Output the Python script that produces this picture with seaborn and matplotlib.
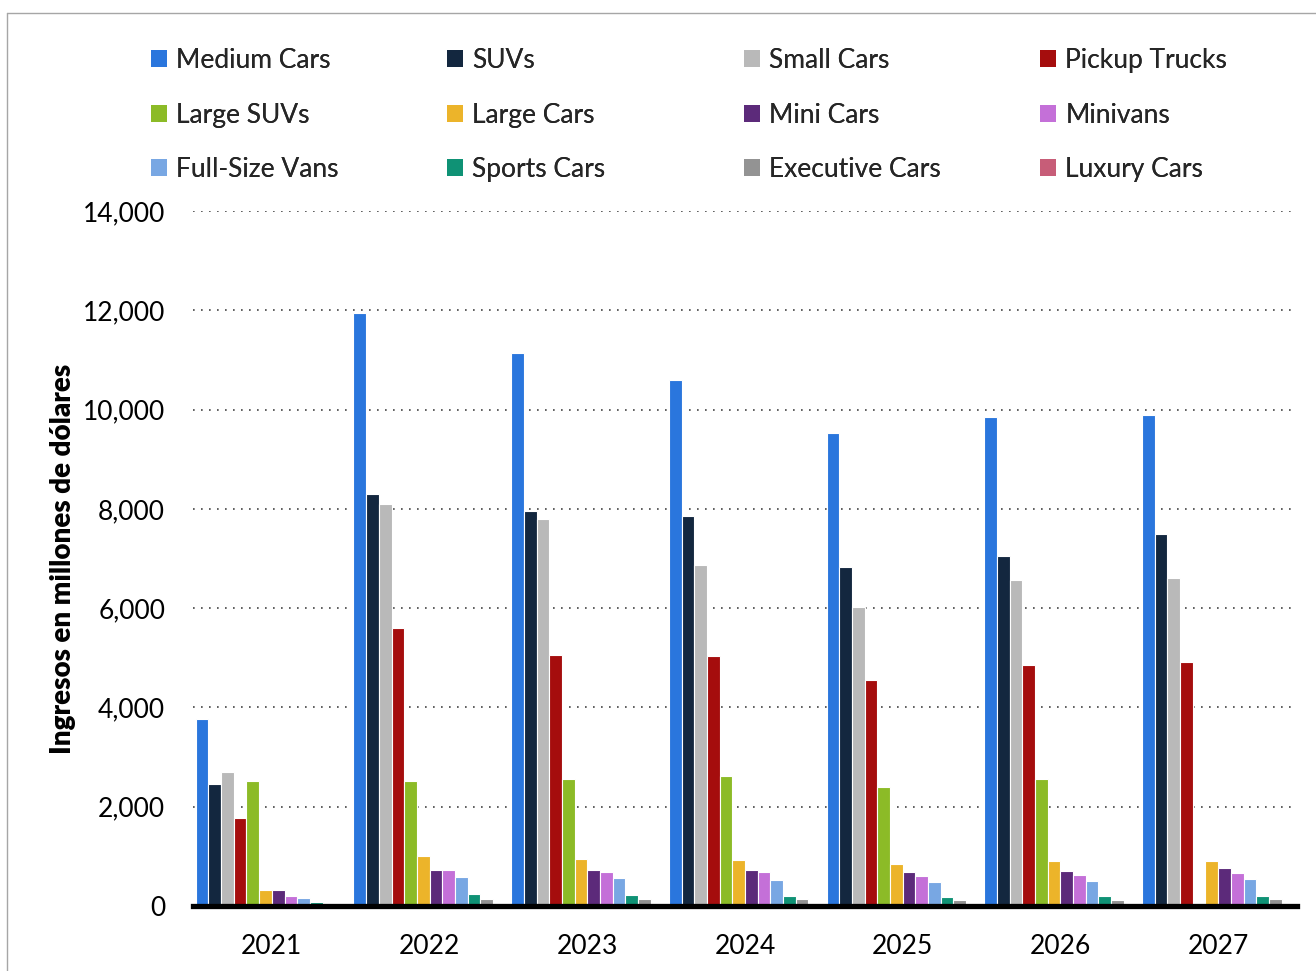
import matplotlib
matplotlib.use("Agg")
import matplotlib.pyplot as plt
from matplotlib.patches import Patch
from matplotlib.lines import Line2D
from matplotlib.ticker import FuncFormatter
import seaborn as sns
import pandas as pd

years = ["2021", "2022", "2023", "2024", "2025", "2026", "2027"]
segments = ["Medium Cars", "SUVs", "Small Cars", "Pickup Trucks",
            "Large SUVs", "Large Cars", "Mini Cars", "Minivans",
            "Full-Size Vans", "Sports Cars", "Executive Cars", "Luxury Cars"]
colors = ["#2a76dd", "#13273f", "#b9b9b9", "#a50d0d",
          "#8cbb27", "#ecb42a", "#5c2a7a", "#c470d8",
          "#78a7e3", "#0f9275", "#939393", "#c75d78"]

medium_cars = [3770, 11940, 11130, 10590, 9530, 9850, 9900]
suvs = [2460, 8300, 7960, 7850, 6830, 7060, 7490]
small_cars = [2700, 8100, 7790, 6870, 6020, 6560, 6600]
pickup_trucks = [1780, 5600, 5050, 5040, 4560, 4850, 4910]
large_suvs = [2520, 2520, 2560, 2620, 2390, 2560, 0]
large_cars = [330, 1000, 950, 930, 840, 910, 910]
mini_cars = [330, 720, 720, 730, 680, 710, 760]
minivans = [210, 720, 690, 680, 610, 620, 670]
full_size_vans = [170, 580, 570, 530, 480, 500, 550]
sports_cars = [80, 240, 230, 210, 190, 210, 210]
executive_cars = [30, 140, 140, 140, 120, 130, 140]
luxury_cars = [10, 30, 30, 30, 25, 30, 30]

series = [medium_cars, suvs, small_cars, pickup_trucks, large_suvs, large_cars,
          mini_cars, minivans, full_size_vans, sports_cars, executive_cars, luxury_cars]

rows = []
for seg, vals in zip(segments, series):
    for y, v in zip(years, vals):
        rows.append({"year": y, "segment": seg, "value": v})
df = pd.DataFrame(rows)

sns.set_theme(style="white")
plt.rcParams["font.family"] = ["Lato", "DejaVu Sans"]

W, H = 1316, 971
fig = plt.figure(figsize=(W / 100, H / 100), dpi=100)
ax = fig.add_axes([193 / W, 1 - 906 / H, (1297 - 193) / W, (906 - 211) / H])

sns.barplot(data=df, x="year", y="value", hue="segment", order=years,
            hue_order=segments, palette=colors, saturation=1, width=0.965, gap=0.0,
            edgecolor="white", linewidth=0.8, legend=False, ax=ax)

ax.set_ylim(0, 14000)
ax.set_xlim(-0.5, len(years) - 0.5)
ax.set_yticks(range(0, 14001, 2000))
ax.yaxis.set_major_formatter(FuncFormatter(lambda v, p: f"{int(v):,}"))
ax.grid(axis="y", color="#444444", linewidth=1.2, linestyle=(0, (1, 3.8)))
ax.grid(axis="x", visible=False)
ax.set_axisbelow(True)
for s in ["top", "right", "left"]:
    ax.spines[s].set_visible(False)
ax.spines["bottom"].set_color("black")
ax.spines["bottom"].set_linewidth(3.8)
ax.spines["bottom"].set_zorder(5)
ax.tick_params(axis="both", length=0, labelsize=19, colors="black")
ax.tick_params(axis="y", pad=20)
ax.tick_params(axis="x", pad=20)
ax.set_xlabel("")
ax.set_ylabel("Ingresos en millones de dólares", fontsize=20, fontweight="heavy", color="black")
ax.yaxis.set_label_coords(-(193 - 76) / (1297 - 193), 0.5)

# legend: 4 columns x 3 rows, row-major order
col_x = [151, 447, 744, 1040]
for j in range(4):
    idx = [j, j + 4, j + 8]
    handles = [Patch(facecolor=colors[i], edgecolor="none") for i in idx]
    labels = [segments[i] for i in idx]
    leg = fig.legend(handles, labels, loc="upper left",
                     bbox_to_anchor=(col_x[j] / W, 1 - 48 / H),
                     frameon=False, fontsize=19, handlelength=0.62, handleheight=0.62,
                     handletextpad=0.34, labelspacing=1.12, borderpad=0, borderaxespad=0)
    fig.add_artist(leg)

# outer border (top and left)
fig.add_artist(Line2D([7 / W, 1.0], [1 - 13 / H, 1 - 13 / H], transform=fig.transFigure,
                      color="#a6a6a6", linewidth=1))
fig.add_artist(Line2D([7 / W, 7 / W], [0, 1 - 13 / H], transform=fig.transFigure,
                      color="#a6a6a6", linewidth=1))

fig.savefig("out.png", dpi=100)
